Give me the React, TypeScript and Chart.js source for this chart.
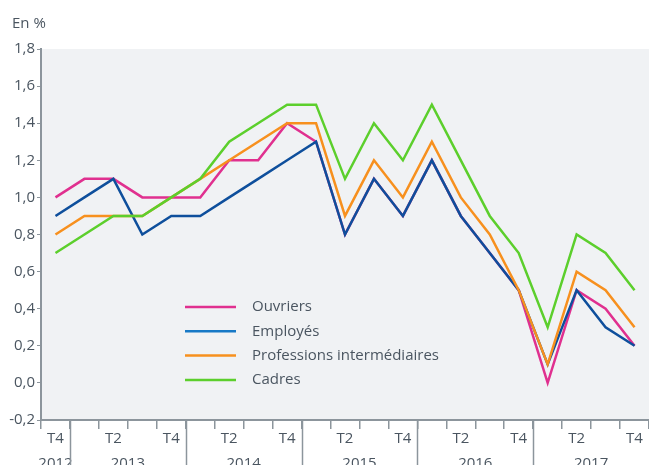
import React, { useEffect, useRef } from "react";
import { Chart, registerables } from "chart.js";

Chart.register(...registerables);

const quarters = ["T4", "T1", "T2", "T3", "T4", "T1", "T2", "T3", "T4", "T1", "T2", "T3", "T4", "T1", "T2", "T3", "T4", "T1", "T2", "T3", "T4"];
const years = ["2012", "2013", "2013", "2013", "2013", "2014", "2014", "2014", "2014", "2015", "2015", "2015", "2015", "2016", "2016", "2016", "2016", "2017", "2017", "2017", "2017"];
const shownQuarters = ["T2", "T4"];

const ouvriers = [1.0, 1.1, 1.1, 1.0, 1.0, 1.0, 1.2, 1.2, 1.4, 1.3, 0.8, 1.1, 0.9, 1.2, 0.9, 0.7, 0.5, 0.0, 0.5, 0.4, 0.2];
const employes = [0.9, 1.0, 1.1, 0.8, 0.9, 0.9, 1.0, 1.1, 1.2, 1.3, 0.8, 1.1, 0.9, 1.2, 0.9, 0.7, 0.5, 0.1, 0.5, 0.3, 0.2];
const professions = [0.8, 0.9, 0.9, 0.9, 1.0, 1.1, 1.2, 1.3, 1.4, 1.4, 0.9, 1.2, 1.0, 1.3, 1.0, 0.8, 0.5, 0.1, 0.6, 0.5, 0.3];
const cadres = [0.7, 0.8, 0.9, 0.9, 1.0, 1.1, 1.3, 1.4, 1.5, 1.5, 1.1, 1.4, 1.2, 1.5, 1.2, 0.9, 0.7, 0.3, 0.8, 0.7, 0.5];

const seriesNames = ["Ouvriers", "Employés", "Professions intermédiaires", "Cadres"];
const seriesColors = ["#e0308f", "#0e4f9c", "#f7901e", "#5ccf2c"];
const legendColors = ["#e0308f", "#1779c6", "#f7901e", "#5ccf2c"];

const yMin = -0.2;
const yMax = 1.8;
const yStep = 0.2;

const FONT = "'Open Sans', 'Noto Sans', sans-serif";
const FS = 15;
const TEXT = "#4a5560";
const AXIS = "#8c959c";

const decorPlugin = {
  id: "decor",
  beforeDraw(chart: any) {
    const { ctx, chartArea } = chart;
    ctx.save();
    ctx.fillStyle = "#f0f2f4";
    ctx.fillRect(chartArea.left, chartArea.top, chartArea.right - chartArea.left, chartArea.bottom - chartArea.top);
    ctx.fillStyle = TEXT;
    ctx.font = `${FS}px ${FONT}`;
    ctx.textBaseline = "middle";
    ctx.textAlign = "left";
    ctx.fillText("En %", 12, 24);
    ctx.restore();
  },
  afterDraw(chart: any) {
    const { ctx, chartArea } = chart;
    const xs = chart.scales.x;
    ctx.save();
    ctx.strokeStyle = AXIS;
    ctx.lineWidth = 1.5;
    const labels: string[] = chart.data.yearLabels;
    let start = 0;
    for (let i = 1; i <= labels.length; i++) {
      if (i === labels.length || labels[i] !== labels[start]) {
        const c = (xs.getPixelForValue(start) + xs.getPixelForValue(i - 1)) / 2;
        ctx.fillStyle = TEXT;
        ctx.font = `${FS}px ${FONT}`;
        ctx.textAlign = "center";
        ctx.textBaseline = "middle";
        ctx.fillText(labels[start], c, chartArea.bottom + 44);
        if (i < labels.length) {
          const sx = Math.round((xs.getPixelForValue(i - 1) + xs.getPixelForValue(i)) / 2) + 0.5;
          ctx.beginPath();
          ctx.moveTo(sx, chartArea.bottom);
          ctx.lineTo(sx, chart.height);
          ctx.stroke();
        }
        start = i;
      }
    }
    chart.data.datasets.forEach((ds: any, i: number) => {
      const y = 307 + i * 24.3;
      ctx.strokeStyle = ds.legendColor;
      ctx.lineWidth = 2.5;
      ctx.beginPath();
      ctx.moveTo(185, y);
      ctx.lineTo(236, y);
      ctx.stroke();
      ctx.fillStyle = TEXT;
      ctx.font = `${FS}px ${FONT}`;
      ctx.textAlign = "left";
      ctx.textBaseline = "middle";
      ctx.fillText(ds.label, 252, y);
    });
    ctx.restore();
  },
};

function App() {
  const ref = useRef<HTMLCanvasElement>(null);
  useEffect(() => {
    if (!ref.current) return;
    const values = [ouvriers, employes, professions, cadres];
    const data: any = {
      labels: quarters,
      yearLabels: years,
      datasets: values.map((v, i) => ({
        label: seriesNames[i],
        data: v,
        borderColor: seriesColors[i],
        backgroundColor: seriesColors[i],
        legendColor: legendColors[i],
        borderWidth: 2.5,
        pointRadius: 0,
        tension: 0,
        fill: false,
        order: 4 - i,
      })),
    };
    const chart = new Chart(ref.current, {
      type: "line",
      data,
      options: {
        animation: false,
        responsive: false,
        maintainAspectRatio: false,
        layout: { padding: { top: 49, left: 0, right: 0, bottom: 0 } },
        plugins: { legend: { display: false }, tooltip: { enabled: false }, title: { display: false } },
        scales: {
          x: {
            type: "category",
            offset: true,
            grid: { display: true, offset: true, drawOnChartArea: false, drawTicks: true, tickLength: 9, color: AXIS, lineWidth: 1.5 },
            border: { display: true, color: AXIS, width: 2 },
            ticks: {
              autoSkip: false,
              maxRotation: 0,
              minRotation: 0,
              padding: 1,
              color: TEXT,
              font: { family: FONT, size: FS },
              callback: (_v: any, i: number) => (shownQuarters.includes(quarters[i]) ? quarters[i] : ""),
            },
            afterFit: (s: any) => {
              s.height = 45;
            },
          },
          y: {
            min: yMin,
            max: yMax,
            grid: { display: true, drawOnChartArea: false, drawTicks: true, tickLength: 4, color: AXIS, lineWidth: 1 },
            border: { display: true, color: AXIS, width: 2 },
            ticks: {
              stepSize: yStep,
              padding: 2,
              color: TEXT,
              font: { family: FONT, size: FS },
              callback: (v: any) => Number(v).toFixed(1).replace(".", ","),
            },
            afterFit: (s: any) => {
              s.width = 41;
            },
          },
        },
      } as any,
      plugins: [decorPlugin],
    });
    return () => chart.destroy();
  }, []);
  return (
    <div style={{ position: "fixed", left: 0, top: 0, width: 649, height: 465, background: "#fff" }}>
      <canvas ref={ref} width={649} height={465} style={{ width: 649, height: 465, display: "block" }} />
    </div>
  );
}

export default App;
